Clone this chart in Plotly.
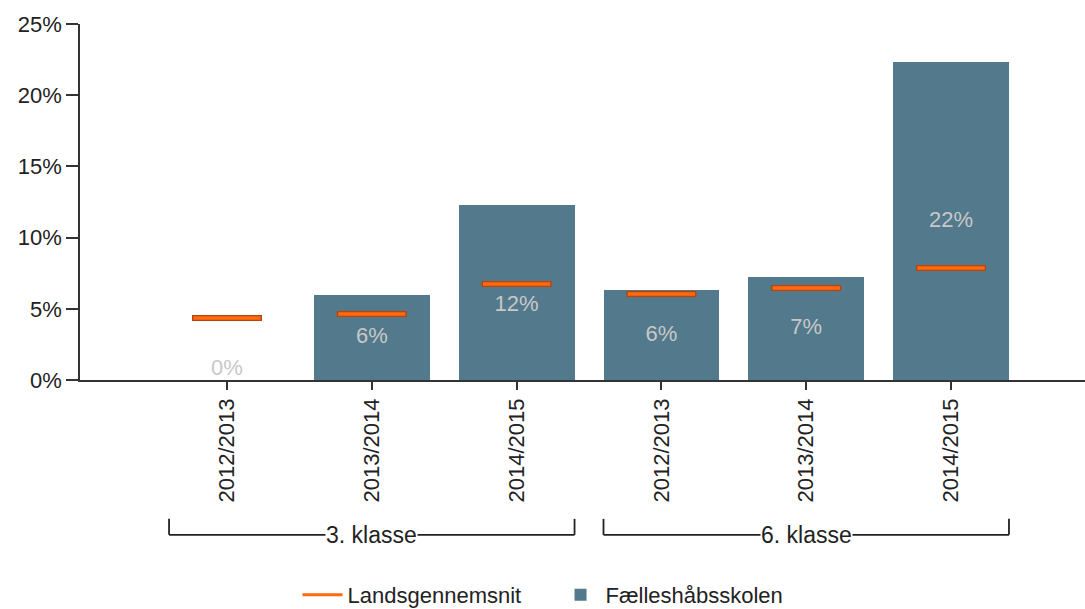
import plotly.graph_objects as go

# ---- data ----
categories = ["2012/2013", "2013/2014", "2014/2015", "2012/2013", "2013/2014", "2014/2015"]
groups = ["3. klasse", "6. klasse"]
group_of = [0, 0, 0, 1, 1, 1]
school_values = [0.0, 6.0, 12.3, 6.3, 7.2, 22.3]
national_avg = [4.35, 4.63, 6.74, 6.04, 6.46, 7.87]
value_labels = ["0%", "6%", "12%", "6%", "7%", "22%"]
y_tick_vals = [0, 5, 10, 15, 20, 25]
y_tick_text = ["0%", "5%", "10%", "15%", "20%", "25%"]
series_names = ["Landsgennemsnit", "Fælleshåbsskolen"]

# ---- style ----
BAR_COLOR = "#527A8C"
ORANGE = "#FF6A10"
ORANGE_DARK = "#B8440C"
LABEL_COLOR = "#C8C8C8"
TEXT_COLOR = "#222222"
FONT = "Liberation Sans, Arial, sans-serif"
BAR_W = 0.8

x_idx = list(range(len(categories)))

# label positions: centred in bar, pushed below the average marker if they would collide
label_y = []
label_pos = []
for v, a in zip(school_values, national_avg):
    if v <= 0:
        label_y.append(0)
        label_pos.append("top center")
        continue
    y = v / 2
    if abs(y - a) < 1.3:
        y = a - 1.5
    label_y.append(y)
    label_pos.append("middle center")

fig = go.Figure()

# legend-only entry for the national average
fig.add_trace(go.Scatter(
    x=[None], y=[None], mode="lines", name=series_names[0],
    line=dict(color=ORANGE, width=3), legendrank=1,
))

fig.add_trace(go.Bar(
    x=x_idx, y=school_values, width=BAR_W, name=series_names[1],
    marker=dict(color=BAR_COLOR, line=dict(width=0)), legendrank=2,
    hoverinfo="skip",
))

# value labels
fig.add_trace(go.Scatter(
    x=x_idx, y=label_y, mode="text", text=value_labels, textposition=label_pos,
    textfont=dict(color=LABEL_COLOR, size=22, family=FONT), showlegend=False,
    hoverinfo="skip",
))

# national average markers (outline + fill)
fig.add_trace(go.Scatter(
    x=x_idx, y=national_avg, mode="markers", showlegend=False,
    marker=dict(symbol="line-ew", size=50, line=dict(color=ORANGE_DARK, width=6)),
    hoverinfo="skip",
))
fig.add_trace(go.Scatter(
    x=x_idx, y=national_avg, mode="markers", showlegend=False,
    marker=dict(symbol="line-ew", size=48, line=dict(color=ORANGE, width=3.5)),
    hoverinfo="skip",
))

# group brackets below the category labels
BR_Y = -0.435
BR_TOP = -0.39
for gi, gname in enumerate(groups):
    members = [i for i, g in enumerate(group_of) if g == gi]
    x0 = min(members) - BAR_W / 2
    x1 = max(members) + BAR_W / 2
    line = dict(color="#222222", width=1.8)
    fig.add_shape(type="line", xref="x", yref="paper", x0=x0, x1=x1, y0=BR_Y, y1=BR_Y, line=line)
    fig.add_shape(type="line", xref="x", yref="paper", x0=x0, x1=x0, y0=BR_TOP, y1=BR_Y, line=line)
    fig.add_shape(type="line", xref="x", yref="paper", x0=x1, x1=x1, y0=BR_TOP, y1=BR_Y, line=line)
    fig.add_annotation(
        x=(min(members) + max(members)) / 2, y=BR_Y, xref="x", yref="paper",
        text=gname, showarrow=False, yanchor="middle", xanchor="center",
        bgcolor="white", borderpad=0,
        font=dict(size=23, color=TEXT_COLOR, family=FONT),
    )

fig.update_layout(
    width=1085, height=609,
    margin=dict(l=80, r=0, t=24, b=229),
    plot_bgcolor="white", paper_bgcolor="white",
    font=dict(family=FONT, color=TEXT_COLOR, size=22),
    showlegend=True,
    legend=dict(
        orientation="h", xref="container", yref="container",
        x=0.512, xanchor="center", y=0.023, yanchor="middle",
        font=dict(size=22, color=TEXT_COLOR, family=FONT),
        itemwidth=40, entrywidth=203,
    ),
    bargap=0,
)

fig.update_xaxes(
    range=[-1.015, 5.925], tickmode="array", tickvals=x_idx, ticktext=categories,
    tickangle=-90, showgrid=False, zeroline=False,
    showline=True, linecolor="#333333", linewidth=1.5,
    ticks="outside", ticklen=8, tickcolor="#333333", tickwidth=1.5,
    tickfont=dict(size=22, color=TEXT_COLOR, family=FONT),
)
fig.update_yaxes(
    range=[0, 25], tickmode="array", tickvals=y_tick_vals, ticktext=y_tick_text,
    showgrid=False, zeroline=False,
    showline=True, linecolor="#333333", linewidth=1.5,
    ticks="outside", ticklen=12, tickcolor="#333333", tickwidth=1.5,
    tickfont=dict(size=22, color=TEXT_COLOR, family=FONT),
)

fig.write_html(
    "out.html",
    config={"displayModeBar": False},
    post_script="document.body.style.margin='0';document.body.style.overflow='hidden';",
)
